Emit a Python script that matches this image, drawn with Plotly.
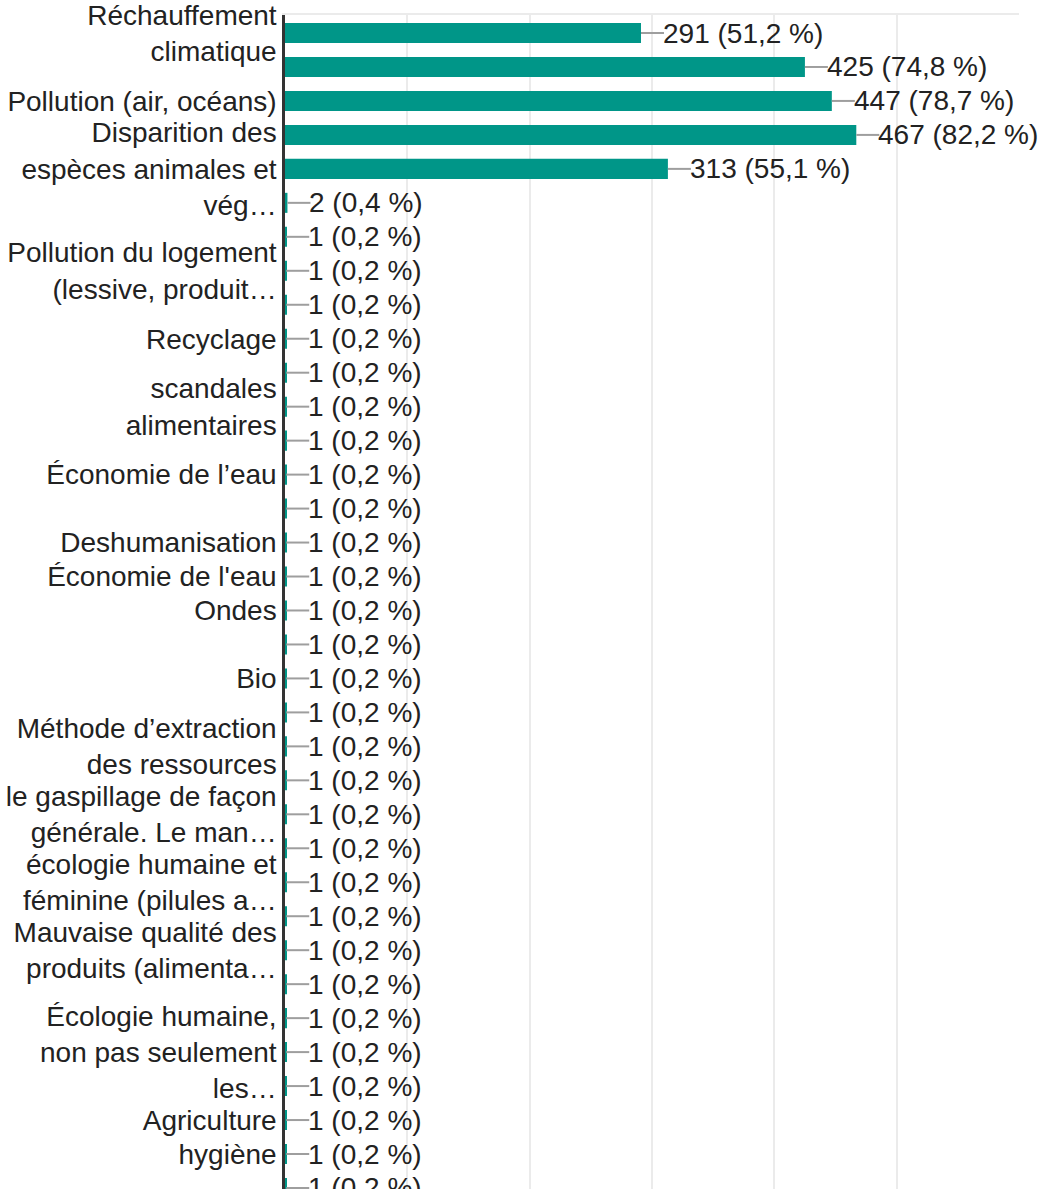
import plotly.graph_objects as go

# Category labels as displayed (empty = label hidden by the original chart)
categories = [
    "Réchauffement<br>climatique", "", "Pollution (air, océans)", "",
    "Disparition des<br>espèces animales et<br>vég…", "", "",
    "Pollution du logement<br>(lessive, produit…", "", "Recyclage", "",
    "scandales<br>alimentaires", "", "Économie de l’eau", "",
    "Deshumanisation", "Économie de l'eau", "Ondes", "", "Bio", "",
    "Méthode d’extraction<br>des ressources", "",
    "le gaspillage de façon<br>générale. Le man…", "",
    "écologie humaine et<br>féminine (pilules a…", "",
    "Mauvaise qualité des<br>produits (alimenta…", "", "",
    "Écologie humaine,<br>non pas seulement<br>les…", "", "Agriculture",
    "hygiène", "",
]

counts = [291, 425, 447, 467, 313, 2] + [1] * 29
percents = ["51,2", "74,8", "78,7", "82,2", "55,1", "0,4"] + ["0,2"] * 29

x_ticks = [0, 100, 200, 300, 400, 500, 600]

rows = list(range(len(categories)))

BAR = "#009688"
FONT = "Liberation Sans, Arial, sans-serif"

fig = go.Figure()
fig.add_trace(go.Bar(
    x=counts, y=rows, orientation="h",
    marker=dict(color=BAR, line=dict(width=0)),
    width=0.59, hoverinfo="skip",
))

shapes = []
annotations = []
for r, c, p in zip(rows, counts, percents):
    shapes.append(dict(
        type="line", xref="x", yref="y", xsizemode="pixel",
        xanchor=c, x0=0, x1=23, y0=r, y1=r,
        line=dict(color="#9e9e9e", width=2),
    ))
    annotations.append(dict(
        x=c, y=r, xref="x", yref="y", xanchor="left", yanchor="middle",
        xshift=20, showarrow=False, text=f"{c} ({p} %)",
        font=dict(family=FONT, size=28, color="#222222"),
    ))

tickvals = [i for i, c in enumerate(categories) if c]
ticktext = [c for c in categories if c]

fig.update_layout(
    width=1045, height=1189,
    margin=dict(l=285, r=26, t=15, b=0, autoexpand=False),
    paper_bgcolor="white", plot_bgcolor="white",
    showlegend=False,
    shapes=shapes, annotations=annotations,
    xaxis=dict(
        range=[0, 600], tickvals=x_ticks, showticklabels=False,
        showgrid=True, gridcolor="#ebebeb", gridwidth=2,
        zeroline=False, side="top", showline=True,
        linecolor="#ebebeb", linewidth=2, ticks="", automargin=False,
    ),
    yaxis=dict(
        range=[34.03, -0.53], tickvals=tickvals, ticktext=ticktext,
        showgrid=False, zeroline=False, showline=True,
        linecolor="#333333", linewidth=2.5, ticks="", automargin=False,
        ticklabeloverflow="allow",
        tickfont=dict(family=FONT, size=28, color="#222222"),
    ),
)

fig.write_html(
    "out.html",
    config={"displayModeBar": False},
    post_script="document.body.style.margin='0';document.body.style.overflow='hidden';",
)
